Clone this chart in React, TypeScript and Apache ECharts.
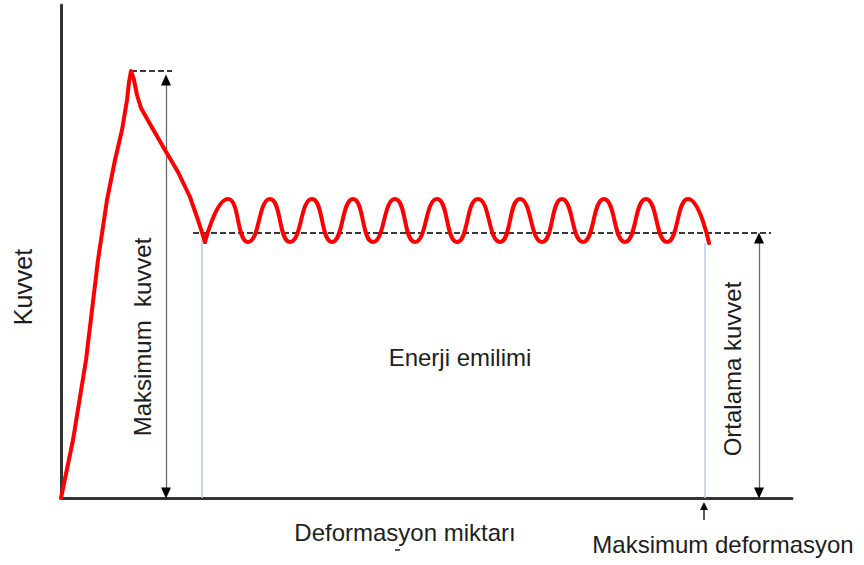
import React, { useEffect, useRef } from "react";
import * as echarts from "echarts";

// Force–deformation curve (deformation units, force units)
const riseDeformation = [0, 12, 25, 37, 46, 54, 61, 66, 68, 70, 73, 76, 80, 89, 104, 117, 129, 137, 144];
const riseForce = [0, 58, 138, 238, 298, 338, 368, 398, 416, 427, 418, 403, 390, 374, 348, 326, 301, 278, 256];

const waveDeformation = [144, 167, 187, 209, 229, 251, 271, 292, 312, 334, 354, 376, 396, 417, 439, 459, 481, 501, 522, 543, 564, 585, 606, 627, 648];
const waveForce = [256, 299, 256, 299, 256, 299, 256, 299, 256, 299, 256, 299, 256, 299, 256, 299, 256, 299, 256, 299, 256, 299, 256, 299, 255];

// Annotation values
const peakDeformation = 70;
const peakForce = 427;
const meanForce = 265;
const maxDeformation = 644;
const plateauStart = 141;
const maxForceArrowX = 105;
const peakDashEnd = 111;
const meanDashStart = 132;
const meanDashEnd = 710;
const meanArrowX = 698;

const xMax = 731;
const yMax = 493;

const labels = {
  yAxis: "Kuvvet",
  maxForce: "Maksimum  kuvvet",
  meanForce: "Ortalama kuvvet",
  energy: "Enerji emilimi",
  xAxis: "Deformasyon miktarı",
  maxDef: "Maksimum deformasyon",
};

const FONT = "'Liberation Sans', Arial, sans-serif";
const TXT = "#1e1e1e";

export default function App() {
  const ref = useRef<HTMLDivElement>(null);

  useEffect(() => {
    if (!ref.current) return;
    const chart = echarts.init(ref.current, undefined, { renderer: "svg" });

    const rise = riseDeformation.map((x, i) => [x, riseForce[i]]);
    const wave = waveDeformation.map((x, i) => [x, waveForce[i]]);

    const dash = { color: "#3a3a3a", width: 2, type: [6, 3] as any };
    const arrowLine = { color: "#6a6a6a", width: 1.3, type: "solid" as any };
    const headLine = { color: "#000", width: 1, type: "solid" as any };
    const blue = { color: "#b7cbe6", width: 1.5, type: "solid" as any };

    // an arrow head pointing to (x, y), coming from direction (x, yFrom)
    const head = (x: number, y: number, yFrom: number) => [
      { coord: [x, yFrom], symbol: "none", lineStyle: headLine },
      { coord: [x, y], symbol: "triangle", symbolSize: [10, 11] },
    ];
    const seg = (a: number[], b: number[], style: any) => [
      { coord: a, symbol: "none", lineStyle: style },
      { coord: b, symbol: "none" },
    ];

    const option: any = {
      animation: false,
      grid: { left: 61, right: 72, top: 5, bottom: 67 },
      xAxis: {
        type: "value",
        min: 0,
        max: xMax,
        axisLine: { show: true, lineStyle: { color: "#333", width: 3 } },
        axisTick: { show: false },
        axisLabel: { show: false },
        splitLine: { show: false },
      },
      yAxis: {
        type: "value",
        min: 0,
        max: yMax,
        axisLine: { show: true, lineStyle: { color: "#333", width: 3 } },
        axisTick: { show: false },
        axisLabel: { show: false },
        splitLine: { show: false },
      },
      series: [
        {
          type: "line",
          data: rise,
          showSymbol: false,
          symbol: "none",
          clip: false,
          z: 5,
          lineStyle: { color: "#ff0000", width: 4, join: "round", cap: "round" },
          markLine: {
            silent: true,
            animation: false,
            symbol: ["none", "none"],
            symbolSize: [10, 11],
            label: { show: false },
            emphasis: { disabled: true },
            data: [
              seg([peakDeformation, peakForce], [peakDashEnd, peakForce], dash),
              seg([meanDashStart, meanForce], [meanDashEnd, meanForce], dash),
              seg([maxForceArrowX, peakForce - 10], [maxForceArrowX, 6], arrowLine),
              head(maxForceArrowX, peakForce - 9, peakForce - 10),
              head(maxForceArrowX, 5, 6),
              seg([meanArrowX, meanForce - 6], [meanArrowX, 6], arrowLine),
              head(meanArrowX, meanForce - 5, meanForce - 6),
              head(meanArrowX, 5, 6),
              seg([plateauStart, waveForce[0] + 2], [plateauStart, 0], blue),
              seg([maxDeformation, waveForce[waveForce.length - 1]], [maxDeformation, 0], blue),
            ],
          },
        },
        {
          type: "line",
          data: wave,
          smooth: 0.55,
          showSymbol: false,
          symbol: "none",
          clip: false,
          z: 5,
          lineStyle: { color: "#ff0000", width: 4, join: "round", cap: "round" },
        },
      ],
      graphic: [
        {
          type: "text",
          x: 23,
          y: 287,
          rotation: Math.PI / 2,
          style: { text: labels.yAxis, font: `25px ${FONT}`, fill: TXT, align: "center", verticalAlign: "middle" },
        },
        {
          type: "text",
          x: 142,
          y: 337,
          rotation: Math.PI / 2,
          style: { text: labels.maxForce, font: `24px ${FONT}`, fill: TXT, align: "center", verticalAlign: "middle" },
        },
        {
          type: "text",
          x: 732,
          y: 369,
          rotation: Math.PI / 2,
          style: { text: labels.meanForce, font: `24px ${FONT}`, fill: TXT, align: "center", verticalAlign: "middle" },
        },
        {
          type: "text",
          x: 460,
          y: 357,
          style: { text: labels.energy, font: `24px ${FONT}`, fill: TXT, align: "center", verticalAlign: "middle" },
        },
        {
          type: "text",
          x: 405,
          y: 532,
          style: { text: labels.xAxis, font: `24px ${FONT}`, fill: TXT, align: "center", verticalAlign: "middle" },
        },
        {
          type: "text",
          x: 723,
          y: 544,
          style: { text: labels.maxDef, font: `24px ${FONT}`, fill: TXT, align: "center", verticalAlign: "middle" },
        },
        {
          type: "rect",
          shape: { x: 395, y: 549, width: 5, height: 2 },
          style: { fill: "#556" },
        },
      ],
    };

    chart.setOption(option);

    // small arrow under the axis marking the maximum deformation
    const p = chart.convertToPixel({ gridIndex: 0 }, [maxDeformation, 0]) as number[];
    if (p && isFinite(p[0])) {
      const x = p[0] - 1;
      const y = p[1];
      chart.setOption({
        graphic: [
          {
            type: "line",
            id: "maxDefStem",
            shape: { x1: x, y1: y + 10, x2: x, y2: y + 22 },
            style: { stroke: "#222", lineWidth: 1.5 },
          },
          {
            type: "polygon",
            id: "maxDefHead",
            shape: { points: [[x, y + 4], [x - 4, y + 12], [x + 4, y + 12]] },
            style: { fill: "#111" },
          },
        ],
      });
    }

    return () => chart.dispose();
  }, []);

  return (
    <div
      ref={ref}
      style={{ position: "fixed", left: 0, top: 0, width: 864, height: 565, background: "#fff" }}
    />
  );
}
